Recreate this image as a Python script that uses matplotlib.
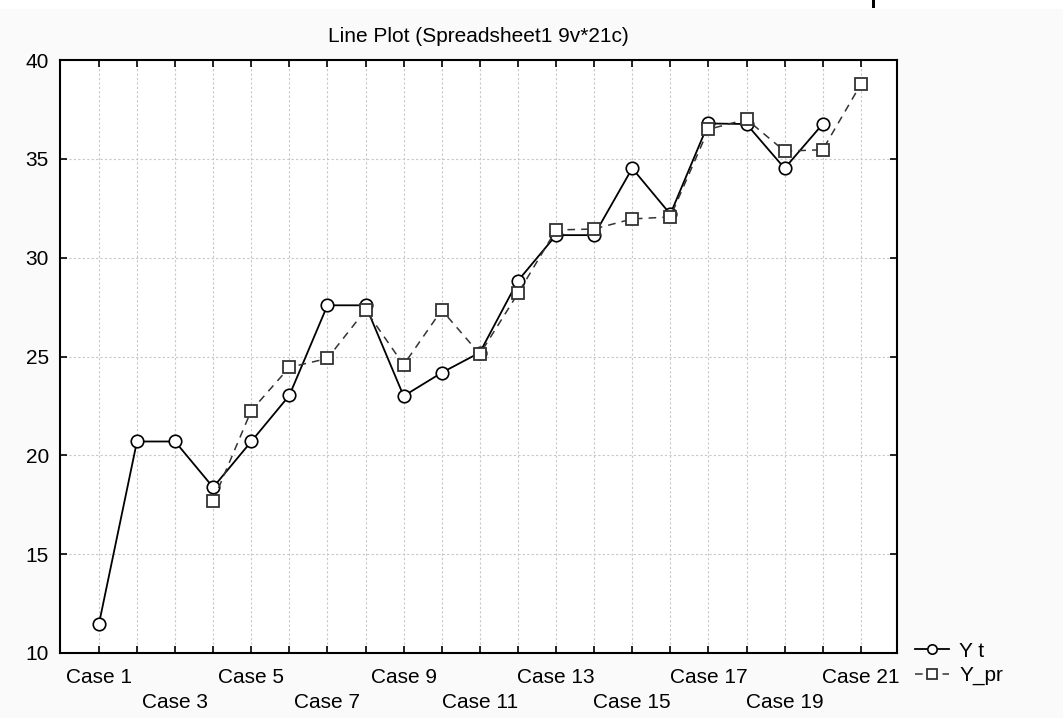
import numpy as np
import matplotlib.pyplot as plt
from matplotlib.patches import Rectangle

plt.rcParams['font.family'] = ['Liberation Sans', 'DejaVu Sans']

cases = ['Case %d' % i for i in range(1, 22)]
y_t = [11.45, 20.7, 20.7, 18.38, 20.7, 23.03, 27.59, 27.59, 23.0, 24.18,
       25.2, 28.83, 31.14, 31.14, 34.52, 32.2, 36.79, 36.76, 34.52, 36.76,
       np.nan]
y_pr = [np.nan, np.nan, np.nan, 17.7, 22.26, 24.45, 24.9, 27.35, 24.58, 27.35,
        25.12, 28.19, 31.4, 31.45, 31.96, 32.06, 36.49, 37.0, 35.39, 35.46,
        38.77]
title = 'Line Plot (Spreadsheet1 9v*21c)'


def main():
    fig = plt.figure(figsize=(10.63, 7.18), dpi=100, facecolor='#fafafa')
    ax = fig.add_axes([60 / 1063, 1 - 653 / 718, 837 / 1063, 593 / 718])
    ax.set_facecolor('white')

    # white strip + stray mark at the very top of the screenshot
    fig.patches.append(Rectangle((0, 1 - 9 / 718), 1, 9 / 718, transform=fig.transFigure,
                                 facecolor='white', edgecolor='none', zorder=0))
    fig.patches.append(Rectangle((872 / 1063, 1 - 8 / 718), 3 / 1063, 8 / 718,
                                 transform=fig.transFigure, facecolor='black',
                                 edgecolor='none'))

    x = np.arange(len(cases))
    ax.plot(x, y_t, color='black', lw=1.3, marker='o', ms=9, mfc='white',
            mec='black', mew=1.2, label='Y t', zorder=3)
    ax.plot(x, y_pr, color='#333333', lw=1.1, ls=(0, (5, 4)), marker='s', ms=9,
            mfc='white', mec='#333333', mew=1.3, label='Y_pr', zorder=4)

    ax.set_xlim(-1.02, 20.95)
    ax.set_ylim(10, 40)
    ax.set_yticks([10, 15, 20, 25, 30, 35, 40])
    ax.set_xticks(x)
    labels = []
    for i, c in enumerate(cases):
        if i % 4 == 0:
            labels.append(c)
        elif i % 4 == 2:
            labels.append('\n' + c)
        else:
            labels.append('')
    ax.set_xticklabels(labels)
    for t in ax.get_xticklabels():
        t.set_linespacing(1.4)

    ax.tick_params(direction='in', length=5, width=1.2, top=True, right=True,
                   labelsize=15, colors='black')
    ax.tick_params(axis='y', pad=8)
    ax.tick_params(axis='x', pad=11)
    ax.grid(True, color='#c8c8c8', ls=(0, (2, 2)), lw=0.8)
    ax.set_axisbelow(True)
    for s in ax.spines.values():
        s.set_linewidth(1.5)
        s.set_color('black')

    ax.set_title(title, fontsize=15, pad=13)

    fig.legend(loc='center left', bbox_to_anchor=(905 / 1063, 1 - 663.5 / 718),
               frameon=False, fontsize=15, handlelength=1.6, handletextpad=0.5,
               labelspacing=0.25, borderpad=0, markerscale=0.75)

    fig.savefig('out.png', dpi=100, facecolor=fig.get_facecolor())


if __name__ == "__main__":
    main()
